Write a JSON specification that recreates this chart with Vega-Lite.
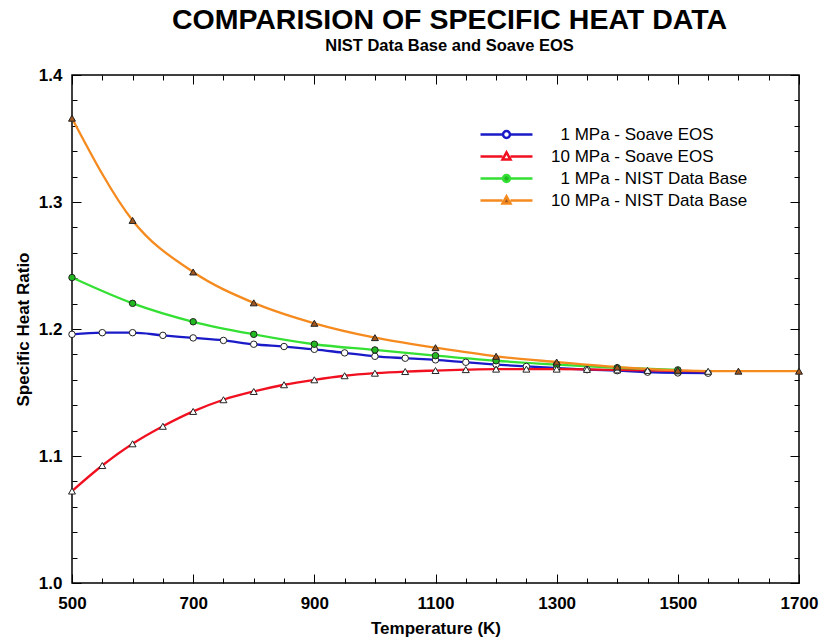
{
  "$schema": "https://vega.github.io/schema/vega-lite/v6.json",
  "width": 727,
  "height": 508,
  "autosize": {"type": "none"},
  "padding": {"left": 72, "top": 75, "right": 21, "bottom": 58},
  "background": "white",
  "config": {
    "font": "Liberation Sans",
    "view": {"stroke": "black", "strokeWidth": 1.5},
    "axis": {"labelColor": "black", "titleColor": "black", "tickColor": "black", "grid": false, "domain": false}
  },
  "title": {
    "text": "COMPARISION OF SPECIFIC HEAT DATA",
    "subtitle": "NIST Data Base and Soave EOS",
    "font": "Liberation Sans",
    "fontSize": 28.5,
    "fontWeight": "bold",
    "color": "black",
    "subtitleFont": "Liberation Sans",
    "subtitleFontSize": 16.5,
    "subtitleFontWeight": "bold",
    "subtitleColor": "black",
    "subtitlePadding": 3,
    "anchor": "middle",
    "dx": 14,
    "offset": 12
  },
  "data": {
    "values": [
      {"series": "1 MPa - Soave EOS", "T": 500, "ratio": 1.1958},
      {"series": "1 MPa - Soave EOS", "T": 550, "ratio": 1.1971},
      {"series": "1 MPa - Soave EOS", "T": 600, "ratio": 1.1971},
      {"series": "1 MPa - Soave EOS", "T": 650, "ratio": 1.1950},
      {"series": "1 MPa - Soave EOS", "T": 700, "ratio": 1.1930},
      {"series": "1 MPa - Soave EOS", "T": 750, "ratio": 1.1910},
      {"series": "1 MPa - Soave EOS", "T": 800, "ratio": 1.1880},
      {"series": "1 MPa - Soave EOS", "T": 850, "ratio": 1.1862},
      {"series": "1 MPa - Soave EOS", "T": 900, "ratio": 1.1840},
      {"series": "1 MPa - Soave EOS", "T": 950, "ratio": 1.1812},
      {"series": "1 MPa - Soave EOS", "T": 1000, "ratio": 1.1785},
      {"series": "1 MPa - Soave EOS", "T": 1050, "ratio": 1.1770},
      {"series": "1 MPa - Soave EOS", "T": 1100, "ratio": 1.1757},
      {"series": "1 MPa - Soave EOS", "T": 1150, "ratio": 1.1738},
      {"series": "1 MPa - Soave EOS", "T": 1200, "ratio": 1.1720},
      {"series": "1 MPa - Soave EOS", "T": 1250, "ratio": 1.1705},
      {"series": "1 MPa - Soave EOS", "T": 1300, "ratio": 1.1692},
      {"series": "1 MPa - Soave EOS", "T": 1350, "ratio": 1.1680},
      {"series": "1 MPa - Soave EOS", "T": 1400, "ratio": 1.1672},
      {"series": "1 MPa - Soave EOS", "T": 1450, "ratio": 1.1660},
      {"series": "1 MPa - Soave EOS", "T": 1500, "ratio": 1.1654},
      {"series": "1 MPa - Soave EOS", "T": 1550, "ratio": 1.1652},
      {"series": "10 MPa - Soave EOS", "T": 500, "ratio": 1.0724},
      {"series": "10 MPa - Soave EOS", "T": 550, "ratio": 1.0925},
      {"series": "10 MPa - Soave EOS", "T": 600, "ratio": 1.1096},
      {"series": "10 MPa - Soave EOS", "T": 650, "ratio": 1.1234},
      {"series": "10 MPa - Soave EOS", "T": 700, "ratio": 1.1351},
      {"series": "10 MPa - Soave EOS", "T": 750, "ratio": 1.1443},
      {"series": "10 MPa - Soave EOS", "T": 800, "ratio": 1.1508},
      {"series": "10 MPa - Soave EOS", "T": 850, "ratio": 1.1561},
      {"series": "10 MPa - Soave EOS", "T": 900, "ratio": 1.1600},
      {"series": "10 MPa - Soave EOS", "T": 950, "ratio": 1.1632},
      {"series": "10 MPa - Soave EOS", "T": 1000, "ratio": 1.1652},
      {"series": "10 MPa - Soave EOS", "T": 1050, "ratio": 1.1665},
      {"series": "10 MPa - Soave EOS", "T": 1100, "ratio": 1.1673},
      {"series": "10 MPa - Soave EOS", "T": 1150, "ratio": 1.1680},
      {"series": "10 MPa - Soave EOS", "T": 1200, "ratio": 1.1684},
      {"series": "10 MPa - Soave EOS", "T": 1250, "ratio": 1.1684},
      {"series": "10 MPa - Soave EOS", "T": 1300, "ratio": 1.1684},
      {"series": "10 MPa - Soave EOS", "T": 1350, "ratio": 1.1682},
      {"series": "10 MPa - Soave EOS", "T": 1400, "ratio": 1.1678},
      {"series": "10 MPa - Soave EOS", "T": 1450, "ratio": 1.1674},
      {"series": "10 MPa - Soave EOS", "T": 1500, "ratio": 1.1670},
      {"series": "10 MPa - Soave EOS", "T": 1550, "ratio": 1.1667},
      {"series": "1 MPa - NIST Data Base", "T": 500, "ratio": 1.2405},
      {"series": "1 MPa - NIST Data Base", "T": 600, "ratio": 1.2202},
      {"series": "1 MPa - NIST Data Base", "T": 700, "ratio": 1.2057},
      {"series": "1 MPa - NIST Data Base", "T": 800, "ratio": 1.1958},
      {"series": "1 MPa - NIST Data Base", "T": 900, "ratio": 1.1880},
      {"series": "1 MPa - NIST Data Base", "T": 1000, "ratio": 1.1835},
      {"series": "1 MPa - NIST Data Base", "T": 1100, "ratio": 1.1790},
      {"series": "1 MPa - NIST Data Base", "T": 1200, "ratio": 1.1750},
      {"series": "1 MPa - NIST Data Base", "T": 1300, "ratio": 1.1720},
      {"series": "1 MPa - NIST Data Base", "T": 1400, "ratio": 1.1695},
      {"series": "1 MPa - NIST Data Base", "T": 1500, "ratio": 1.1678},
      {"series": "10 MPa - NIST Data Base", "T": 500, "ratio": 1.3660},
      {"series": "10 MPa - NIST Data Base", "T": 600, "ratio": 1.2855},
      {"series": "10 MPa - NIST Data Base", "T": 700, "ratio": 1.2449},
      {"series": "10 MPa - NIST Data Base", "T": 800, "ratio": 1.2206},
      {"series": "10 MPa - NIST Data Base", "T": 900, "ratio": 1.2045},
      {"series": "10 MPa - NIST Data Base", "T": 1000, "ratio": 1.1932},
      {"series": "10 MPa - NIST Data Base", "T": 1100, "ratio": 1.1853},
      {"series": "10 MPa - NIST Data Base", "T": 1200, "ratio": 1.1785},
      {"series": "10 MPa - NIST Data Base", "T": 1300, "ratio": 1.1740},
      {"series": "10 MPa - NIST Data Base", "T": 1400, "ratio": 1.1700},
      {"series": "10 MPa - NIST Data Base", "T": 1500, "ratio": 1.1675},
      {"series": "10 MPa - NIST Data Base", "T": 1600, "ratio": 1.1668},
      {"series": "10 MPa - NIST Data Base", "T": 1700, "ratio": 1.1668}
    ]
  },
  "resolve": {"axis": {"x": "independent", "y": "independent"}},
  "layer": [
    {
      "mark": {"type": "line", "strokeWidth": 2.3, "interpolate": "monotone"},
      "encoding": {
        "x": {
          "field": "T", "type": "quantitative",
          "scale": {"domain": [500, 1700], "nice": false, "zero": false},
          "axis": {
            "orient": "bottom", "values": [500, 700, 900, 1100, 1300, 1500, 1700], "format": "d",
            "ticks": false, "labelFont": "Liberation Sans", "labelFontSize": 17, "labelFontWeight": "bold",
            "labelPadding": 12, "labelFlush": false, "labelOverlap": false,
            "title": "Temperature (K)", "titleFont": "Liberation Sans", "titleFontSize": 17, "titleFontWeight": "bold", "titlePadding": 9
          }
        },
        "y": {
          "field": "ratio", "type": "quantitative",
          "scale": {"domain": [1.0, 1.4], "nice": false, "zero": false},
          "axis": {
            "orient": "left", "values": [1.0, 1.1, 1.2, 1.3, 1.4], "format": ".1f",
            "ticks": false, "labelFont": "Liberation Sans", "labelFontSize": 17, "labelFontWeight": "bold",
            "labelPadding": 10, "labelFlush": false, "labelOverlap": false,
            "title": "Specific Heat Ratio", "titleFont": "Liberation Sans", "titleFontSize": 17, "titleFontWeight": "bold", "titlePadding": 6
          }
        },
        "color": {
          "field": "series", "type": "nominal",
          "scale": {
            "domain": ["1 MPa - Soave EOS", "10 MPa - Soave EOS", "1 MPa - NIST Data Base", "10 MPa - NIST Data Base"],
            "range": ["#1a1ac8", "#f01020", "#33e033", "#f58a1f"]
          },
          "legend": {
            "orient": "none", "legendX": 426, "legendY": 51, "title": null, "padding": 0,
            "labelFont": "Liberation Sans", "labelFontSize": 17, "labelColor": "black", "labelOffset": 36, "labelLimit": 400,
            "rowPadding": 4, "symbolSize": 75, "symbolStrokeWidth": 2.5,
            "encode": {
              "labels": {
                "update": {
                  "dx": {"signal": "indexof(datum.value, '1 MPa') === 0 ? 9.5 : 0"}
                }
              },
              "symbols": {
                "update": {
                  "shape": {"signal": "indexof(datum.value, 'Soave') >= 0 && indexof(datum.value, '10 ') !== 0 || indexof(datum.value, '1 MPa - NIST') === 0 ? 'M-6,0L-0.8,0M0.8,0L6,0M-0.8,0A0.8,0.8,0,1,1,0.8,0A0.8,0.8,0,1,1,-0.8,0Z' : 'M-6,0L-0.92,0M0.92,0L6,0M0,-0.95L0.92,0.7L-0.92,0.7Z'"},
                  "fill": {"signal": "indexof(datum.value, 'Soave') >= 0 ? 'white' : (indexof(datum.value, '1 MPa') === 0 ? '#22b822' : '#a0561e')"},
                  "fillOpacity": {"value": 1}
                }
              }
            }
          }
        }
      }
    },
    {
      "transform": [{"filter": "indexof(datum.series, '1 MPa') === 0"}],
      "mark": {"type": "point", "shape": "circle", "filled": true, "size": 42, "stroke": "#222222", "strokeWidth": 1, "opacity": 1},
      "encoding": {
        "x": {"field": "T", "type": "quantitative",
          "axis": {"orient": "bottom", "values": [500, 700, 900, 1100, 1300, 1500, 1700], "labels": false, "ticks": true, "tickSize": -9, "tickWidth": 1, "title": null}},
        "y": {"field": "ratio", "type": "quantitative",
          "axis": {"orient": "left", "values": [1.0, 1.1, 1.2, 1.3, 1.4], "labels": false, "ticks": true, "tickSize": -9, "tickWidth": 1, "title": null}},
        "fill": {
          "field": "series", "type": "nominal",
          "scale": {
            "domain": ["1 MPa - Soave EOS", "10 MPa - Soave EOS", "1 MPa - NIST Data Base", "10 MPa - NIST Data Base"],
            "range": ["white", "white", "#22b822", "#a0561e"]
          },
          "legend": null
        }
      }
    },
    {
      "transform": [{"filter": "indexof(datum.series, '10 MPa') === 0"}],
      "mark": {"type": "point", "shape": "triangle-up", "filled": true, "size": 48, "stroke": "#222222", "strokeWidth": 1, "opacity": 1},
      "encoding": {
        "x": {"field": "T", "type": "quantitative",
          "axis": {"orient": "bottom", "values": [550, 600, 650, 750, 800, 850, 950, 1000, 1050, 1150, 1200, 1250, 1350, 1400, 1450, 1550, 1600, 1650], "labels": false, "ticks": true, "tickSize": -5, "tickWidth": 1, "title": null}},
        "y": {"field": "ratio", "type": "quantitative",
          "axis": {"orient": "left", "values": [1.02, 1.04, 1.06, 1.08, 1.12, 1.14, 1.16, 1.18, 1.22, 1.24, 1.26, 1.28, 1.32, 1.34, 1.36, 1.38], "labels": false, "ticks": true, "tickSize": -5, "tickWidth": 1, "title": null}},
        "fill": {"field": "series", "type": "nominal", "legend": null}
      }
    },
    {
      "mark": {"type": "point", "opacity": 0},
      "encoding": {
        "x": {"field": "T", "type": "quantitative",
          "axis": {"orient": "top", "values": [500, 700, 900, 1100, 1300, 1500, 1700], "labels": false, "ticks": true, "tickSize": -9, "tickWidth": 1, "title": null}},
        "y": {"field": "ratio", "type": "quantitative",
          "axis": {"orient": "right", "values": [1.0, 1.1, 1.2, 1.3, 1.4], "labels": false, "ticks": true, "tickSize": -9, "tickWidth": 1, "title": null}}
      }
    },
    {
      "mark": {"type": "point", "opacity": 0},
      "encoding": {
        "x": {"field": "T", "type": "quantitative",
          "axis": {"orient": "top", "values": [550, 600, 650, 750, 800, 850, 950, 1000, 1050, 1150, 1200, 1250, 1350, 1400, 1450, 1550, 1600, 1650], "labels": false, "ticks": true, "tickSize": -5, "tickWidth": 1, "title": null}},
        "y": {"field": "ratio", "type": "quantitative",
          "axis": {"orient": "right", "values": [1.02, 1.04, 1.06, 1.08, 1.12, 1.14, 1.16, 1.18, 1.22, 1.24, 1.26, 1.28, 1.32, 1.34, 1.36, 1.38], "labels": false, "ticks": true, "tickSize": -5, "tickWidth": 1, "title": null}}
      }
    }
  ]
}
